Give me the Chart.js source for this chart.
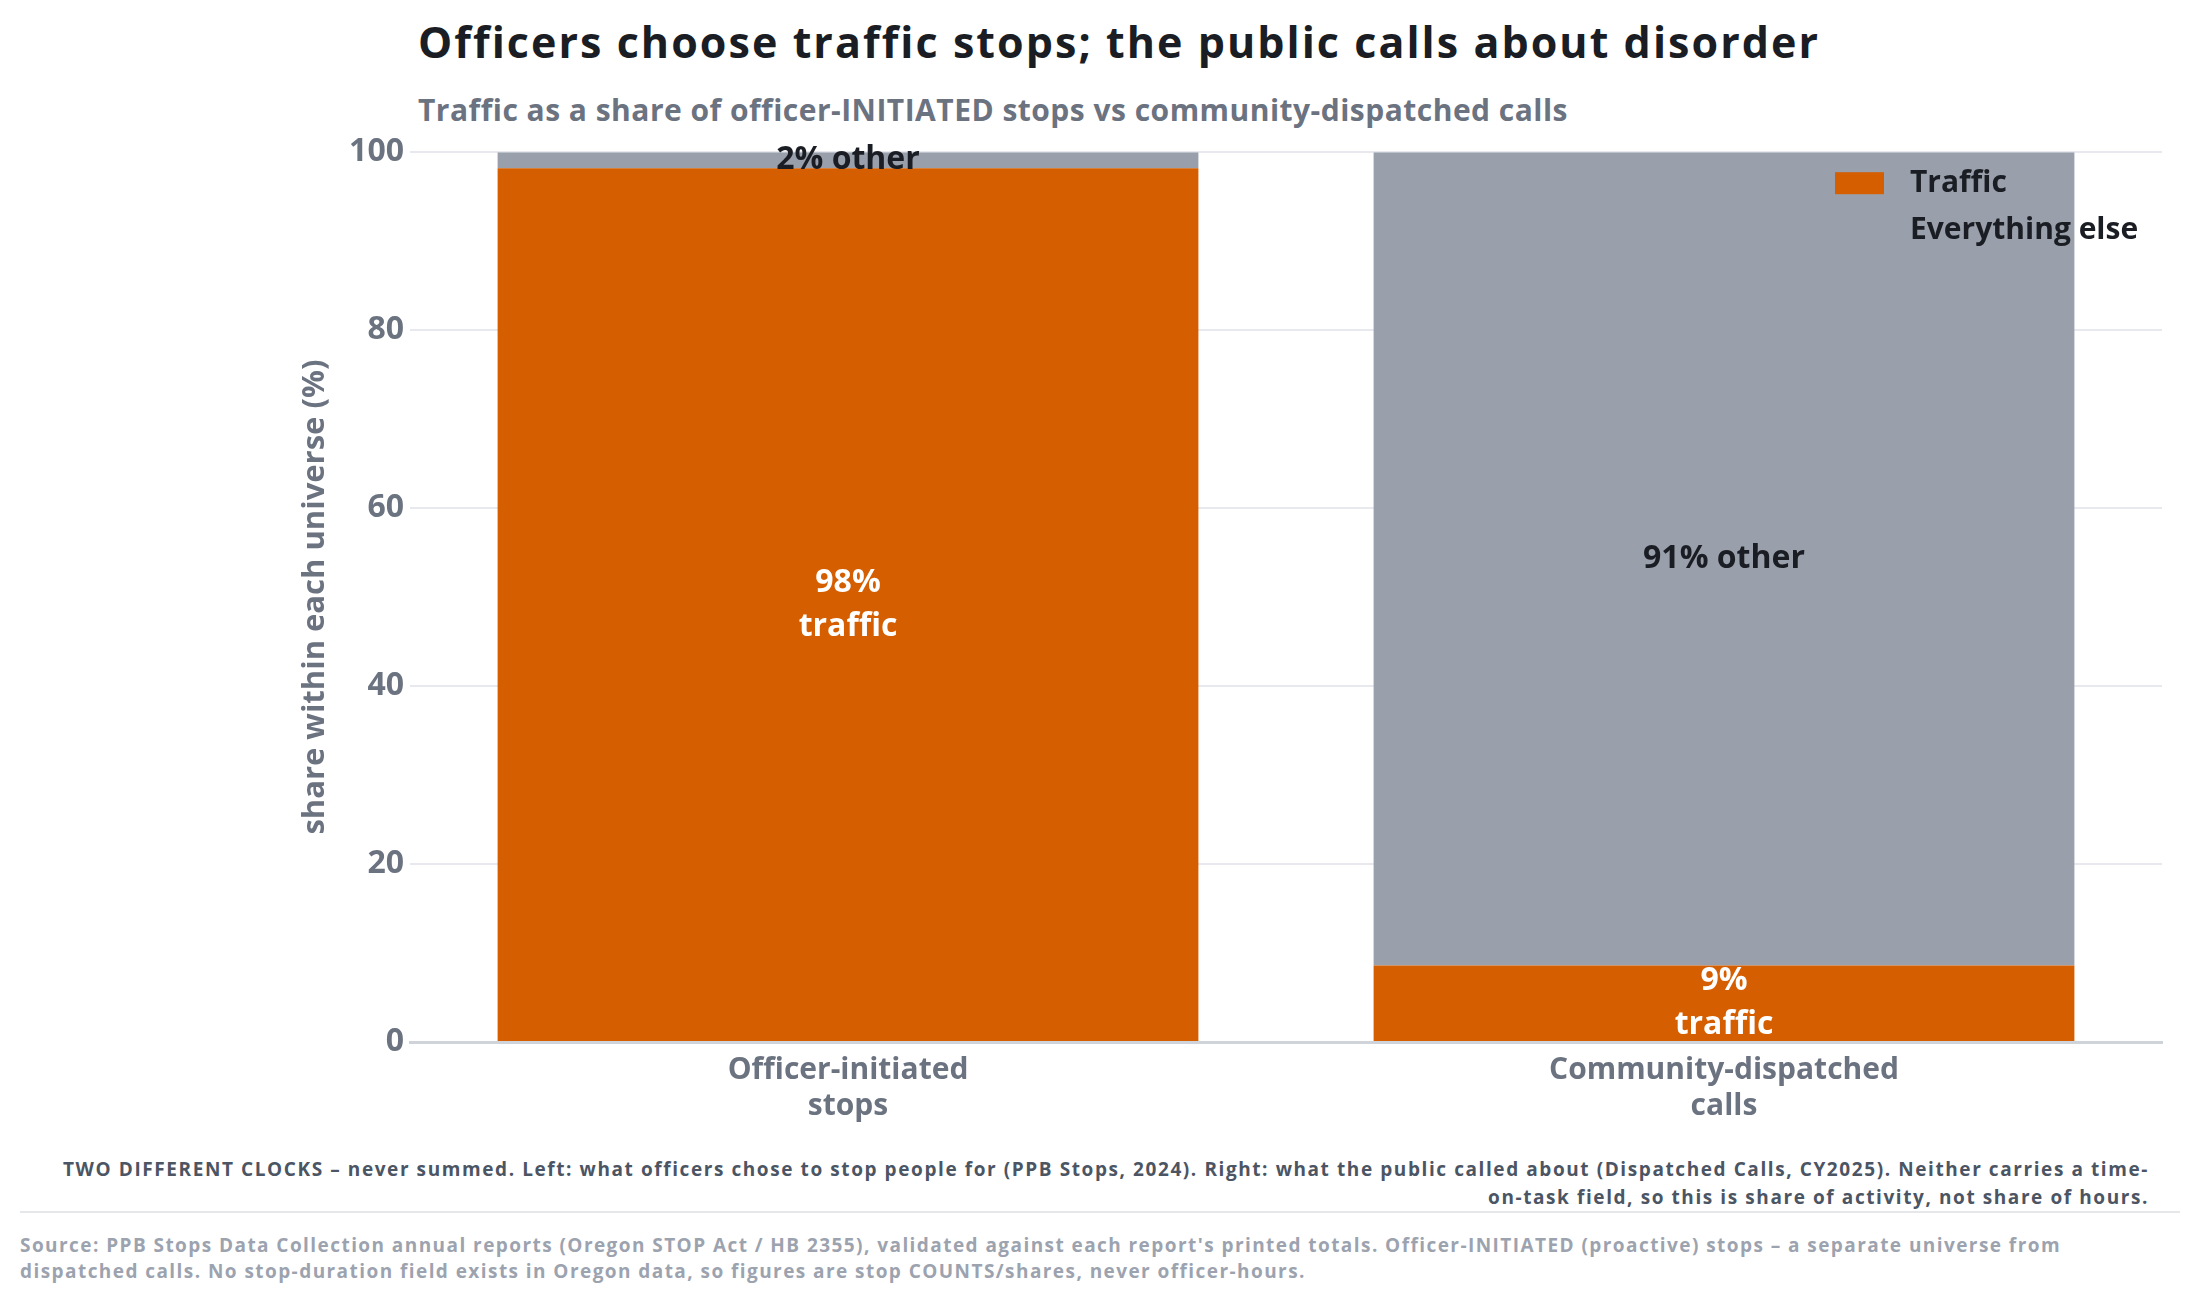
<!DOCTYPE html>
<html>
<head>
<meta charset="utf-8">
<script src="https://cdn.jsdelivr.net/npm/chart.js@4.4.1/dist/chart.umd.min.js"></script>
<style>
  body { margin: 0; width: 2187px; height: 1306px; background: #fff; position: relative; overflow: hidden; font-family: "Open Sans", Lato, sans-serif; font-weight: 700; }
  .abs { position: absolute; white-space: nowrap; }
  #titulo { left: 418px; top: 20px; font-size: 43px; line-height: 43px; color: #1a1d23; }
  #subtitulo { left: 418px; top: 95px; font-size: 30px; line-height: 30px; color: #6b7280; }
  #grafica-caja { position: absolute; left: 0; top: 127px; width: 2187px; height: 1003px; }
  .nota { right: 38px; font-size: 19px; line-height: 28px; color: #4b5563; text-align: right; }
  #linea { position: absolute; left: 20px; top: 1211px; width: 2160px; height: 2px; background: #e5e7eb; }
  .fuente { left: 20px; font-size: 19px; line-height: 26px; color: #9ca3af; }
</style>
</head>
<body>
<div id="titulo" class="abs" data-ancho="1402">Officers choose traffic stops; the public calls about disorder</div>
<div id="subtitulo" class="abs" data-ancho="1150">Traffic as a share of officer-INITIATED stops vs community-dispatched calls</div>
<div id="grafica-caja"><canvas id="grafica"></canvas></div>
<div id="nota1" class="abs nota" style="top:1155px" data-ancho="2086">TWO DIFFERENT CLOCKS – never summed. Left: what officers chose to stop people for (PPB Stops, 2024). Right: what the public called about (Dispatched Calls, CY2025). Neither carries a time-</div>
<div id="nota2" class="abs nota" style="top:1183px">on-task field, so this is share of activity, not share of hours.</div>
<div id="linea"></div>
<div id="fuente1" class="abs fuente" style="top:1232px" data-ancho="2041">Source: PPB Stops Data Collection annual reports (Oregon STOP Act / HB 2355), validated against each report's printed totals. Officer-INITIATED (proactive) stops – a separate universe from</div>
<div id="fuente2" class="abs fuente" style="top:1258px">dispatched calls. No stop-duration field exists in Oregon data, so figures are stop COUNTS/shares, never officer-hours.</div>

<script>
// Datos
const categorias = [['Officer-initiated', 'stops'], ['Community-dispatched', 'calls']];
const trafico = [98.2, 8.6];
const otros = [1.8, 91.4];
const series = ['Traffic', 'Everything else'];
const sufijos = ['\ntraffic', ' other'];
const ticksY = [0, 20, 40, 60, 80, 100];

const NARANJA = '#d55e00';
const GRIS = '#9aa0ab';
const FUENTE = '"Open Sans", Lato, sans-serif';

// Ajusta el espaciado de letras para acercar el ancho del texto al original
function ajustarAncho(el, pareja) {
    const objetivo = parseFloat(el.dataset.ancho);
    const actual = el.getBoundingClientRect().width;
    const esp = (objetivo - actual) / el.textContent.length;
    el.style.letterSpacing = esp + 'px';
    if (pareja) pareja.style.letterSpacing = esp + 'px';
}
document.fonts.ready.then(() => {
    ajustarAncho(document.getElementById('titulo'));
    ajustarAncho(document.getElementById('subtitulo'));
    ajustarAncho(document.getElementById('nota1'), document.getElementById('nota2'));
    ajustarAncho(document.getElementById('fuente1'), document.getElementById('fuente2'));
});

// Etiquetas dentro de cada segmento
const etiquetasPlugin = {
    id: 'etiquetas',
    afterDatasetsDraw(chart) {
        const ctx = chart.ctx;
        ctx.save();
        ctx.font = 'bold 32px ' + FUENTE;
        ctx.textAlign = 'center';
        ctx.textBaseline = 'middle';
        chart.data.datasets.forEach((ds, i) => {
            const meta = chart.getDatasetMeta(i);
            meta.data.forEach((barra, j) => {
                const { x, y, base } = barra.getProps(['x', 'y', 'base'], true);
                const texto = Math.round(ds.data[j]) + '%' + sufijos[i];
                const lineas = texto.split('\n');
                const cy = (y + base) / 2;
                const alto = 44;
                ctx.fillStyle = i === 0 ? '#ffffff' : '#1a1d23';
                lineas.forEach((l, k) => {
                    ctx.fillText(l, x, cy + (k - (lineas.length - 1) / 2) * alto);
                });
            });
        });
        ctx.restore();
    }
};

// Leyenda dentro del área del gráfico, arriba a la derecha
const leyendaPlugin = {
    id: 'leyenda',
    afterDraw(chart) {
        const ctx = chart.ctx;
        const area = chart.chartArea;
        const x0 = area.right - 327;
        const y0 = area.top + 31;
        ctx.save();
        ctx.font = 'bold 30px ' + FUENTE;
        ctx.textBaseline = 'middle';
        ctx.textAlign = 'left';
        chart.data.datasets.forEach((ds, i) => {
            const cy = y0 + i * 47;
            ctx.fillStyle = ds.backgroundColor;
            ctx.fillRect(x0, cy - 11, 49, 22);
            ctx.fillStyle = '#1a1d23';
            ctx.fillText(ds.label, x0 + 75, cy);
        });
        ctx.restore();
    }
};

new Chart(document.getElementById('grafica'), {
    type: 'bar',
    data: {
        labels: categorias,
        datasets: [
            { label: series[0], data: trafico, backgroundColor: NARANJA },
            { label: series[1], data: otros, backgroundColor: GRIS }
        ]
    },
    options: {
        responsive: true,
        maintainAspectRatio: false,
        animation: false,
        layout: { padding: { left: 298, right: 25, top: 15, bottom: 0 } },
        datasets: { bar: { barPercentage: 0.8, categoryPercentage: 1.0 } },
        plugins: {
            legend: { display: false },
            tooltip: { enabled: false }
        },
        scales: {
            x: {
                stacked: true,
                grid: { display: false, drawTicks: false },
                border: { display: true, color: '#cfd4da', width: 3 },
                ticks: {
                    color: '#6b7280',
                    padding: 10,
                    font: { family: FUENTE, size: 30, weight: 'bold', lineHeight: 1.2 }
                },
                afterFit(escala) { escala.height = 88; }
            },
            y: {
                stacked: true,
                min: 0,
                max: 100,
                afterBuildTicks(escala) { escala.ticks = ticksY.map(v => ({ value: v })); },
                grid: { color: '#e8e9ee', lineWidth: 2, drawTicks: false },
                border: { display: false },
                ticks: {
                    color: '#6b7280',
                    padding: 6,
                    font: { family: FUENTE, size: 32, weight: 'bold' }
                },
                title: {
                    display: true,
                    text: 'share within each universe (%)',
                    color: '#6b7280',
                    padding: { top: -1, bottom: 0 },
                    font: { family: FUENTE, size: 31, weight: 'bold', lineHeight: 1.2 }
                },
                afterFit(escala) { escala.width = 112; }
            }
        }
    },
    plugins: [etiquetasPlugin, leyendaPlugin]
});
</script>
</body>
</html>
